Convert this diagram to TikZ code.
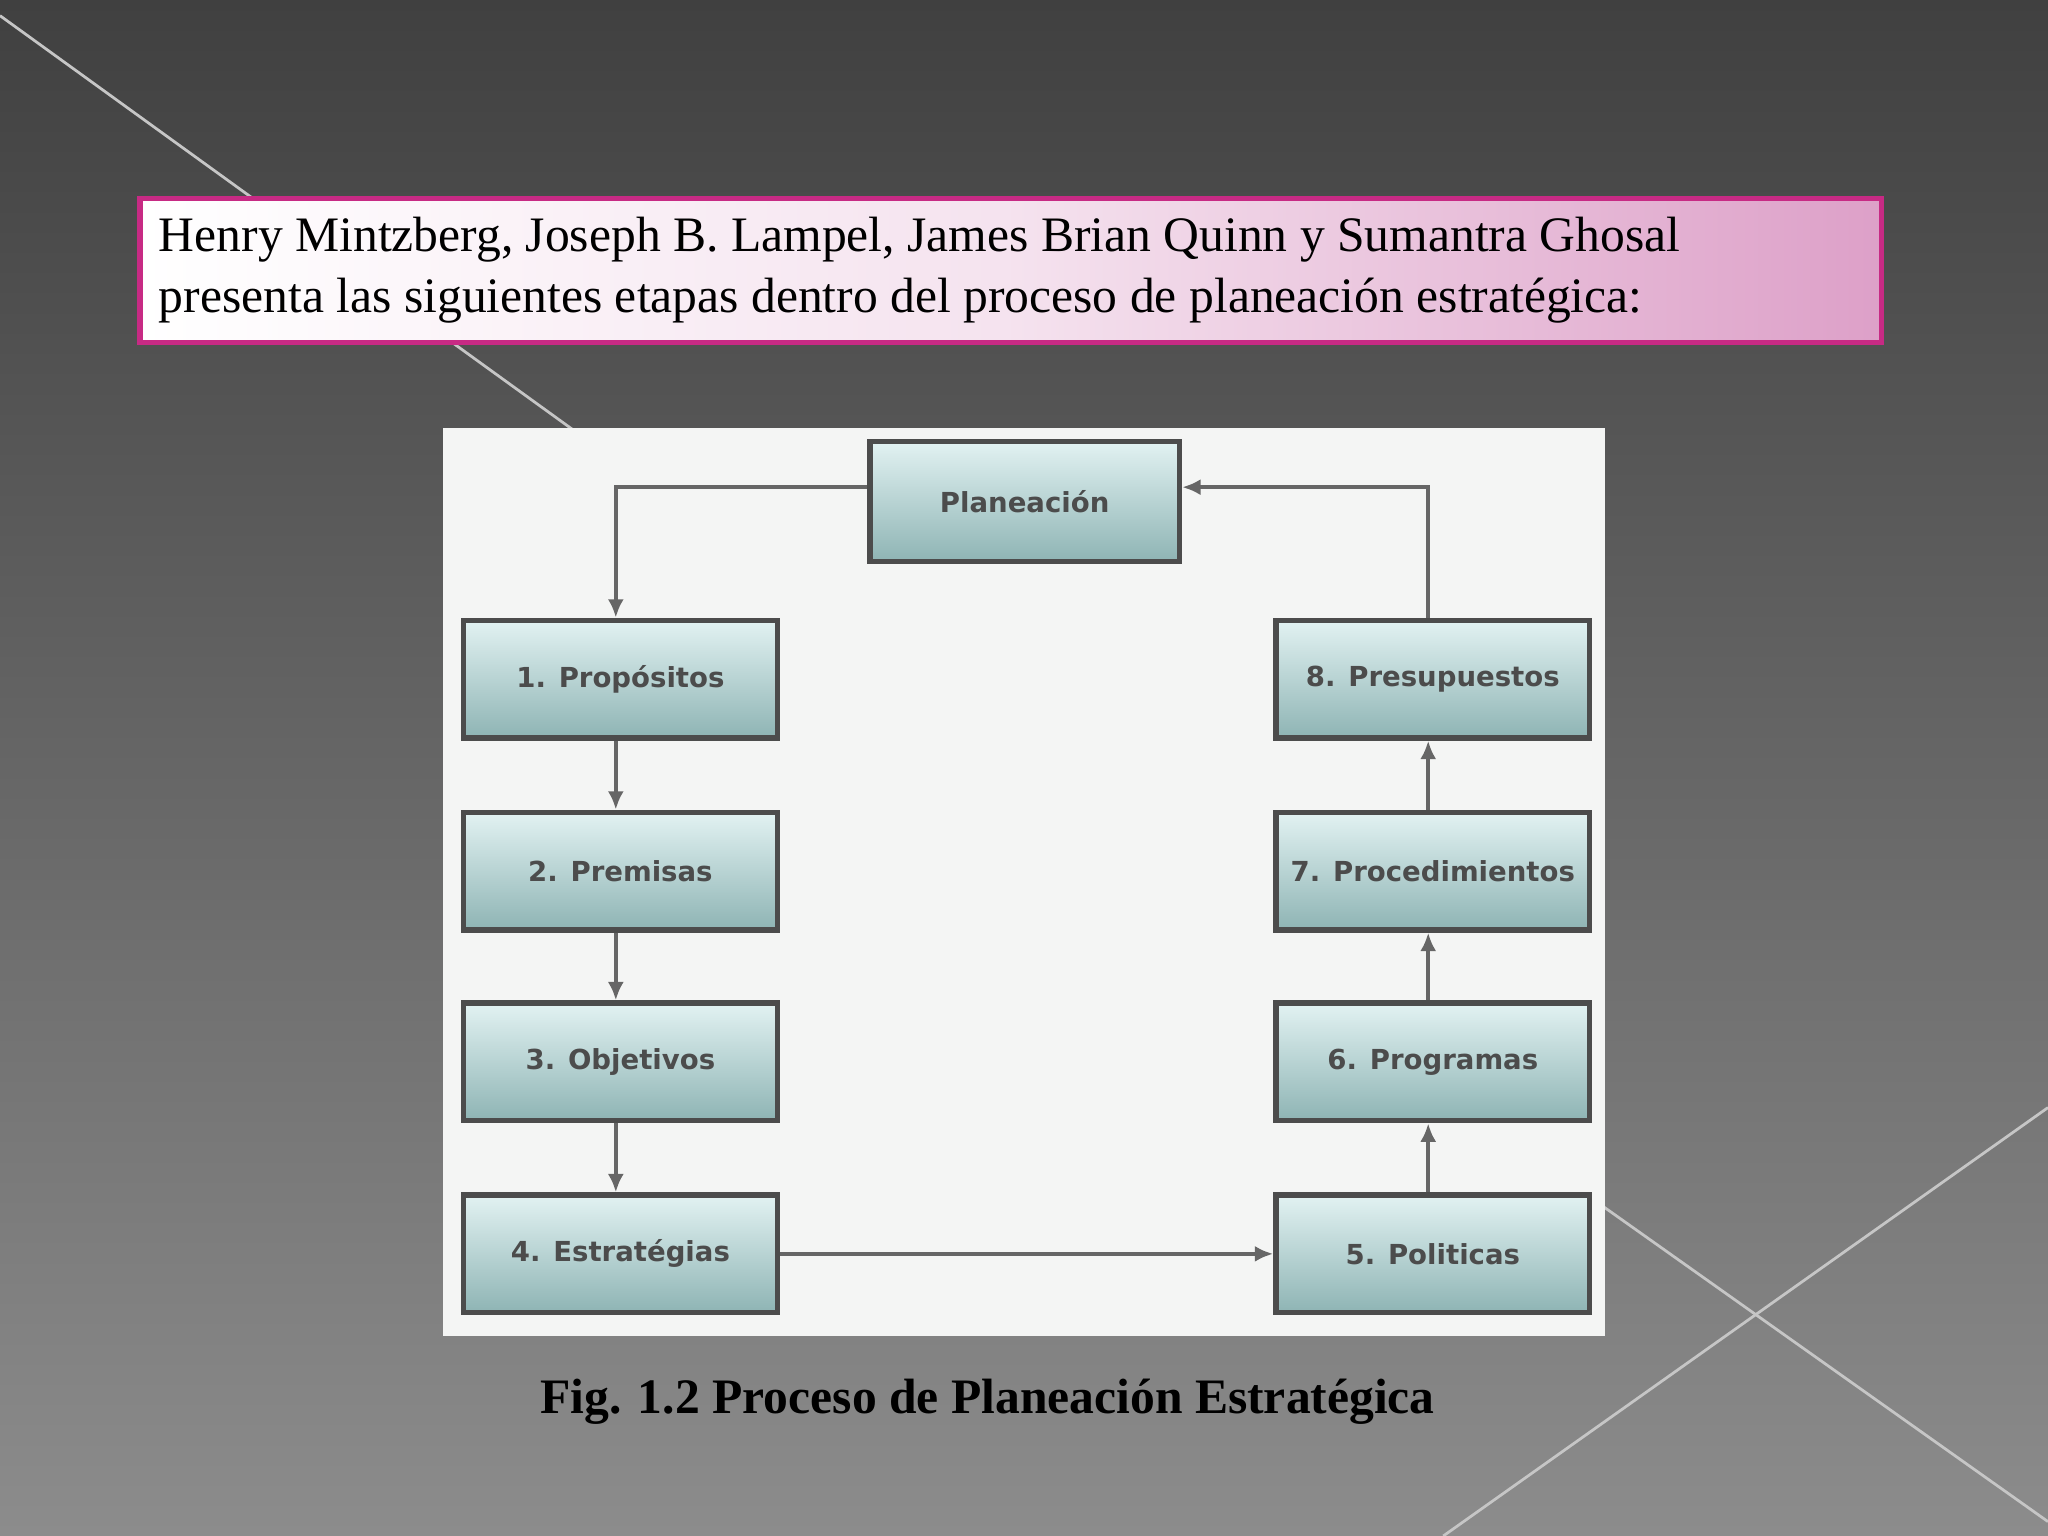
\documentclass[tikz,border=0pt]{standalone}
\usepackage{fontspec}
\setmainfont{Liberation Serif}
\newfontfamily\boxfont{DejaVu Sans}
\usetikzlibrary{arrows.meta}
\definecolor{bgtop}{HTML}{404040}
\definecolor{bgbot}{HTML}{8C8C8C}
\definecolor{pinkR}{HTML}{DDA0C8}
\definecolor{tealT}{HTML}{E2F2F2}
\definecolor{tealB}{HTML}{8EB4B4}
\definecolor{panel}{HTML}{F4F5F4}
\tikzset{
  stepbox/.style={draw=black!70, line width=1.2pt, top color=tealT, bottom color=tealB, minimum width=68.3pt, minimum height=25.6pt, font=\boxfont\bfseries\fontsize{6}{7}\selectfont, text=black!70, inner sep=0},
  conn/.style={draw=black!60, line width=0.8pt, -{Latex[length=4pt,width=3.5pt]}}
}
\begin{document}
\begin{tikzpicture}[x=0.01cm,y=-0.01cm]
\shade[top color=bgtop, bottom color=bgbot] (0,0) rectangle (1568,1176);
\useasboundingbox (0,0) rectangle (1568,1176);
\draw[white!55!gray, line width=0.6pt] (0,12) -- (440,330);
\draw[white!55!gray, line width=0.6pt] (1568,848) -- (1105,1176);
\draw[white!55!gray, line width=0.6pt] (1225,922) -- (1568,1165);
\node[draw=magenta!80!black, line width=1.2pt, left color=white, right color=pinkR, middle color=pinkR!30!white, minimum width=379.2pt, minimum height=31.3pt, anchor=north west, inner sep=0] (hdr) at (105,150) {};
\node[anchor=west, align=left, font=\fontsize{10.8}{13.4}\selectfont, inner sep=0] (hdrtxt) at (121,207) {Henry Mintzberg, Joseph B. Lampel, James Brian Quinn y Sumantra Ghosal\\presenta las siguientes etapas dentro del proceso de planeación estratégica:};
\fill[panel] (339,328) rectangle (1229,1023);
\node[stepbox, minimum width=67.4pt, minimum height=26.2pt] (p) at (784.5,384) {Planeación};
\node[stepbox] (a1) at (475,520) {1. Propósitos};
\node[stepbox] (a2) at (475,667) {2. Premisas};
\node[stepbox] (a3) at (475,813) {3. Objetivos};
\node[stepbox] (a4) at (475,960) {4. Estratégias};
\node[stepbox] (a5) at (1097,960) {5. Politicas};
\node[stepbox] (a6) at (1097,813) {6. Programas};
\node[stepbox] (a7) at (1097,667) {7. Procedimientos};
\node[stepbox] (a8) at (1097,520) {8. Presupuestos};
\draw[conn] (p.west |- 0,373) -| ([xshift=-1pt]a1.north);
\draw[conn] ([xshift=-1pt]a1.south) -- ([xshift=-1pt]a2.north);
\draw[conn] ([xshift=-1pt]a2.south) -- ([xshift=-1pt]a3.north);
\draw[conn] ([xshift=-1pt]a3.south) -- ([xshift=-1pt]a4.north);
\draw[conn] (a4.east) -- (a5.west);
\draw[conn] ([xshift=-1pt]a5.north) -- ([xshift=-1pt]a6.south);
\draw[conn] ([xshift=-1pt]a6.north) -- ([xshift=-1pt]a7.south);
\draw[conn] ([xshift=-1pt]a7.north) -- ([xshift=-1pt]a8.south);
\draw[conn] ([xshift=-1pt]a8.north) |- (p.east |- 0,373);
\node[font=\bfseries\fontsize{10.8}{13}\selectfont] (cap) at (756,1073) {Fig. 1.2 Proceso de Planeación Estratégica};
\end{tikzpicture}
\end{document}
